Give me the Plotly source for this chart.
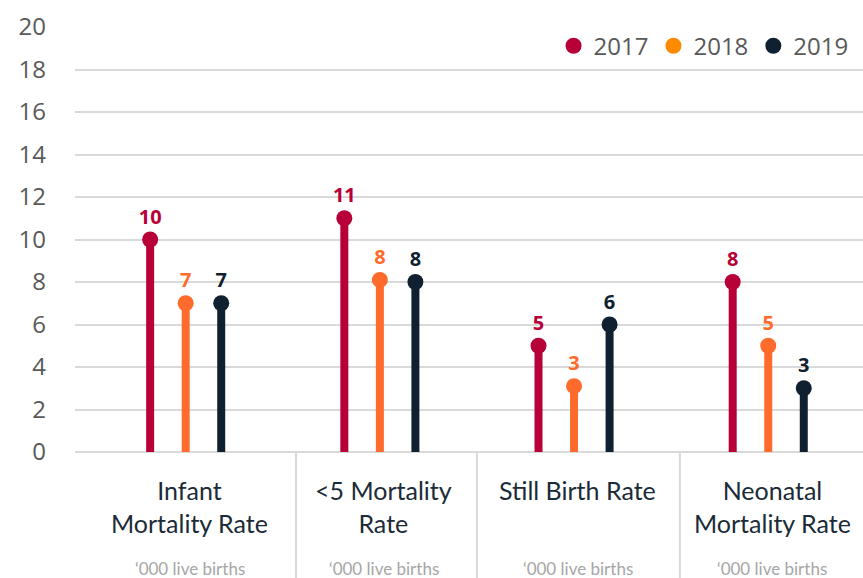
import plotly.graph_objects as go

categories = ["Infant<br>Mortality Rate", "<5 Mortality<br>Rate", "Still Birth Rate", "Neonatal<br>Mortality Rate"]
sub_label = "‘000 live births"
years = ["2017", "2018", "2019"]
values = {
    "2017": [10, 11, 5, 8],
    "2018": [7, 8.1, 3.1, 5],
    "2019": [7, 8, 6, 3],
}
labels = {
    "2017": ["10", "11", "5", "8"],
    "2018": ["7", "8", "3", "5"],
    "2019": ["7", "8", "6", "3"],
}

stem_colors = {"2017": "#B70037", "2018": "#FF6B2C", "2019": "#0F2130"}
legend_colors = {"2017": "#B70037", "2018": "#FF8A00", "2019": "#0F2130"}
offsets = {"2017": -0.183, "2018": 0.0, "2019": 0.183}
separators = [0.568, 1.5, 2.545]

fig = go.Figure()
for yr in years:
    xs, ys = [], []
    for i, v in enumerate(values[yr]):
        xs += [i + offsets[yr], i + offsets[yr], None]
        ys += [0, v, None]
    fig.add_trace(go.Scatter(x=xs, y=ys, mode="lines", showlegend=False,
                             line=dict(color=stem_colors[yr], width=8), hoverinfo="skip"))
    fig.add_trace(go.Scatter(x=[i + offsets[yr] for i in range(len(categories))], y=values[yr],
                             mode="markers+text", showlegend=False,
                             marker=dict(color=stem_colors[yr], size=16),
                             text=labels[yr], textposition="top center",
                             textfont=dict(family="Open Sans", size=20, color=stem_colors[yr], weight="bold")))
    fig.add_trace(go.Scatter(x=[None], y=[None], mode="markers", name=yr,
                             marker=dict(color=legend_colors[yr], size=20)))

for i, c in enumerate(categories):
    fig.add_annotation(x=i + 0.02, y=0, xref="x", yref="paper", yanchor="top", yshift=-21,
                       text=c, showarrow=False,
                       font=dict(family="Lato", size=25, color="#1B2B38"))
    fig.add_annotation(x=i + 0.02, y=0, xref="x", yref="paper", yanchor="top", yshift=-104,
                       text=sub_label, showarrow=False,
                       font=dict(family="Lato", size=17, color="#A6A6A6"))

for s in separators:
    fig.add_shape(type="line", xref="x", yref="paper", x0=s, x1=s, y0=0, y1=-0.32,
                  line=dict(color="#D9D9D9", width=2))

fig.update_layout(
    width=863, height=578,
    margin=dict(l=75, r=0, t=27, b=126, autoexpand=False),
    plot_bgcolor="white", paper_bgcolor="white",
    font=dict(family="Open Sans", color="#595959"),
    xaxis=dict(range=[-0.57, 3.488], showticklabels=False, showgrid=False, zeroline=False,
               fixedrange=True, automargin=False),
    yaxis=dict(range=[0, 20], dtick=2, showgrid=True, gridcolor="#D9D9D9", gridwidth=2,
               zeroline=True, zerolinecolor="#D9D9D9", zerolinewidth=2, automargin=False,
               tickfont=dict(size=24, color="#595959"), ticklabelstandoff=28),
    legend=dict(orientation="h", x=0.988, xanchor="right", y=0.955, yanchor="middle",
                font=dict(size=24, color="#595959"), itemwidth=30, traceorder="normal",
                bgcolor="rgba(0,0,0,0)"),
    showlegend=True,
)

fig.write_html("out.html", config={"displayModeBar": False},
               post_script="document.body.style.margin='0';")
